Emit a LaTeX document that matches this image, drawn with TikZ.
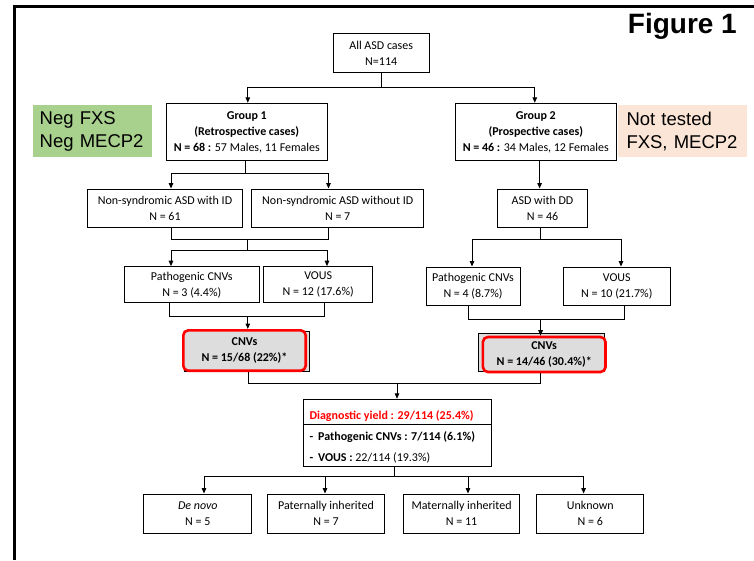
\documentclass[tikz,border=0pt]{standalone}
\usepackage{fontspec}
\setmainfont{Carlito}
\newfontfamily\arialf{Liberation Sans}
\usetikzlibrary{arrows.meta}
\definecolor{boxgreen}{RGB}{169,209,142}
\definecolor{boxpeach}{RGB}{251,229,214}
\definecolor{cnvgray}{RGB}{221,221,221}
\definecolor{yieldred}{RGB}{255,0,0}
\begin{document}
\begin{tikzpicture}[x=1pt,y=-1pt,
  box/.style={draw, line width=1pt, align=center, inner sep=0pt, font=\fontsize{12}{16}\selectfont},
  conn/.style={line width=1pt},
  arr/.style={conn, -{Triangle[length=5.5pt,width=4.5pt]}},
  note/.style={inner ysep=0pt, align=left, font=\arialf\fontsize{18.5}{23}\selectfont},
  cnvback/.style={draw, line width=1pt, fill=cnvgray, inner sep=0pt},
  cnvred/.style={box, draw=yieldred, line width=2.6pt, rounded corners=5pt, fill=cnvgray},
  ytext/.style={anchor=base west, inner sep=0pt, font=\fontsize{12}{16}\selectfont}]
\useasboundingbox (0,0) rectangle (754,560);
% frame
\draw[line width=2.6pt, miter limit=4] (14.7,560) -- (14.7,6.3) -- (754,6.3);
% title and notes
\node[font=\arialf\bfseries\fontsize{28}{30}\selectfont, anchor=base east, inner sep=0pt] (fig) at (737,33) {Figure 1};
\node[note, fill=boxgreen, text width=105pt, inner xsep=7.2pt, minimum height=52pt] (neg) at (92.2,131.3) {Neg FXS\\Neg MECP2};
\node[note, fill=boxpeach, text width=112pt, inner xsep=8.5pt, minimum height=52pt] (nt) at (682.5,131.3) {Not tested\\FXS, MECP2};
% boxes
\node[box, minimum width=95.7pt, minimum height=39.4pt] (all) at (381.2,53) {All ASD cases\\N=114};
\node[box, minimum width=161.5pt, minimum height=57.4pt] (g1) at (246.8,132) {\textbf{Group 1}\\\textbf{(Retrospective cases)}\\\textbf{N = 68 :} 57 Males, 11 Females};
\node[box, minimum width=160.4pt, minimum height=57.4pt] (g2) at (535.8,132) {\textbf{Group 2}\\\textbf{(Prospective cases)}\\\textbf{N = 46 :} 34 Males, 12 Females};
\node[box, minimum width=155pt, minimum height=38.3pt] (id) at (165,208.2) {Non-syndromic ASD with ID\\N = 61};
\node[box, minimum width=172pt, minimum height=38.3pt] (woid) at (337.7,208.2) {Non-syndromic ASD without ID\\N = 7};
\node[box, minimum width=90pt, minimum height=38.3pt] (dd) at (542.5,208.2) {ASD with DD\\N = 46};
\node[box, minimum width=134.4pt, minimum height=36pt] (p1) at (191.8,284.7) {Pathogenic CNVs\\N = 3 (4.4\%)};
\node[box, minimum width=108.5pt, minimum height=36pt] (v1) at (318.2,284.7) {VOUS\\N = 12 (17.6\%)};
\node[box, minimum width=94pt, minimum height=38.7pt] (p2) at (473,286.4) {Pathogenic CNVs\\N = 4 (8.7\%)};
\node[box, minimum width=107.5pt, minimum height=38.7pt] (v2) at (616.8,286.4) {VOUS\\N = 10 (21.7\%)};
\node[cnvback, minimum width=125pt, minimum height=39.6pt] (c1b) at (246.5,351.5) {};
\node[cnvred, minimum width=122.4pt, minimum height=40.4pt] (c1) at (244.5,350.5) {\textbf{CNVs}\\\textbf{N = 15/68 (22\%)*}};
\node[cnvback, minimum width=126pt, minimum height=38.4pt] (c2b) at (541,352.5) {};
\node[cnvred, minimum width=122.6pt, minimum height=35pt] (c2) at (544.2,354.5) {\textbf{CNVs}\\\textbf{N = 14/46 (30.4\%)*}};
\node[draw, line width=1pt, minimum width=188.3pt, minimum height=67.4pt, inner sep=0pt] (yield) at (397.2,433) {};
\draw[line width=1pt] (yield.west |- 0,424.3) -- (yield.east |- 0,424.3);
\node[ytext, text=yieldred] (y1) at (309.3,419) {\textbf{Diagnostic yield : 29/114 (25.4\%)}};
\node[ytext] (y2) at (309.3,440.5) {\textbf{-\hspace{5pt}Pathogenic CNVs : 7/114 (6.1\%)}};
\node[ytext] (y3) at (309.3,461) {\textbf{-\hspace{5pt}VOUS :} 22/114 (19.3\%)};
\node[box, minimum width=107.7pt, minimum height=39.3pt] (dn) at (197.8,513.7) {\textit{De novo}\\N = 5};
\node[box, minimum width=117pt, minimum height=39.3pt] (pat) at (326,513.7) {Paternally inherited\\N = 7};
\node[box, minimum width=116.4pt, minimum height=39.3pt] (mat) at (461.6,513.7) {Maternally inherited\\N = 11};
\node[box, minimum width=107.3pt, minimum height=39.3pt] (unk) at (590.3,513.7) {Unknown\\N = 6};
% connectors
\coordinate (j0) at (381.2,87.3);
\draw[conn] (all.south) -- (j0);
\draw[arr] (j0) -| ([xshift=1pt]g1.north);
\draw[arr] (j0) -| ([xshift=-1pt]g2.north);
\coordinate (j1) at (245,173.3);
\draw[conn] (g1.south -| j1) -- (j1);
\draw[arr] (j1) -| ([xshift=6pt]id.north);
\draw[arr] (j1) -| ([xshift=-9.2pt]woid.north);
\draw[arr] ([xshift=3.8pt]g2.south) -- ([xshift=-2.9pt]dd.north);
\coordinate (j3) at (247.8,239.3);
\coordinate (j4) at (247.8,250);
\draw[conn] ([xshift=6pt]id.south) |- (j3) -| ([xshift=-9.2pt]woid.south);
\draw[conn] (j3) -- (j4);
\draw[arr] (j4) -| ([xshift=-20.8pt]p1.north);
\draw[arr] (j4) -| ([xshift=8.8pt]v1.north);
\coordinate (j5) at (540,239);
\draw[conn] ([xshift=-2.5pt]dd.south) -- (j5);
\draw[arr] (j5) -| ([xshift=-1pt]p2.north);
\draw[arr] (j5) -| ([xshift=4.2pt]v2.north);
\coordinate (j6) at (247.8,316.7);
\draw[conn] ([xshift=-22.8pt]p1.south) |- (j6) -| ([xshift=6.4pt]v1.south);
\draw[arr] (j6) -- (j6 |- c1.north);
\coordinate (j7) at (540.6,319.3);
\draw[conn] ([xshift=-5pt]p2.south) |- (j7) -| ([xshift=7.8pt]v2.south);
\draw[arr] (j7) -- (j7 |- c2.north);
\coordinate (j8) at (397,383.3);
\draw[conn] ([xshift=3.8pt]c1.south) |- (j8) -| ([xshift=-3.6pt]c2.south);
\draw[arr] (j8) -- (j8 |- yield.north);
\coordinate (j9) at (394.7,476.7);
\draw[conn] (yield.south -| j9) -- (j9);
\draw[arr] (j9) -| ([xshift=6.2pt]dn.north);
\draw[arr] (j9) -| ([xshift=-1pt]pat.north);
\draw[arr] (j9) -| ([xshift=6.4pt]mat.north);
\draw[arr] (j9) -| ([xshift=-6.7pt]unk.north);
\end{tikzpicture}
\end{document}
